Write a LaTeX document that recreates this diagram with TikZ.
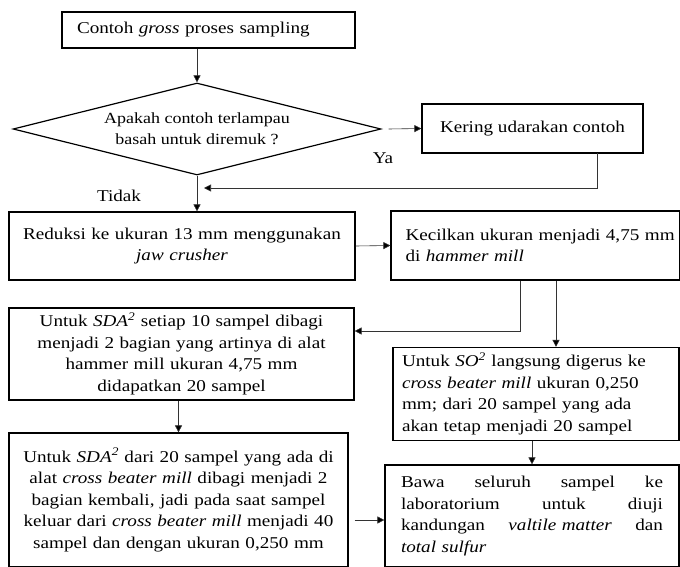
\documentclass[tikz,border=0pt]{standalone}
\usepackage{fontspec}
\setmainfont[FakeStretch=1.16]{Liberation Serif}
\usetikzlibrary{shapes.geometric,arrows.meta}
\begin{document}
\begin{tikzpicture}[x=1pt,y=1pt,
  box/.style={draw,line width=1.2pt,inner sep=0pt,font=\fontsize{16.5}{21.5}\selectfont},
  conn/.style={line width=0.6pt,draw=black!80,-{Triangle[length=7pt,width=7pt,fill=black]}},
  lbl/.style={font=\fontsize{16.5}{18}\selectfont,inner sep=0pt}]
\path[use as bounding box] (0,0) rectangle (680,-567);
\node[box,minimum width=293pt,minimum height=36pt,text width=263pt,align=left] (b1) at (208.5,-30) {Contoh \textit{gross} proses sampling};
\node[draw,line width=1.2pt,diamond,aspect=4,minimum width=368pt,minimum height=92pt,inner sep=0pt,align=center,font=\fontsize{15.5}{21}\selectfont] (dia) at (197,-129) {Apakah contoh terlampau\\basah untuk diremuk ?};
\node[box,minimum width=221pt,minimum height=49pt] (ker) at (532.5,-128.5) {Kering udarakan contoh};
\node[box,minimum width=346pt,minimum height=68pt,text width=340pt,align=center] (red) at (182,-246) {Reduksi ke ukuran 13 mm menggunakan\\\textit{jaw crusher}};
\node[box,minimum width=289pt,minimum height=69pt,text width=260pt,align=left] (kec) at (535.5,-245.5) {\mbox{Kecilkan ukuran menjadi 4,75 mm}\\di \textit{hammer mill}};
\node[box,minimum width=345pt,minimum height=92pt,text width=340pt,align=center] (sda1) at (181.5,-354) {Untuk \textit{SDA}\textsuperscript{\textit{2}} setiap 10 sampel dibagi\\menjadi 2 bagian yang artinya di alat\\hammer mill ukuran 4,75 mm\\didapatkan 20 sampel};
\node[box,minimum width=286pt,minimum height=93pt,text width=268pt,align=left] (so) at (536,-394) {\mbox{Untuk \textit{SO}\textsuperscript{\textit{2}} langsung digerus ke}\\\mbox{\textit{cross beater mill} ukuran 0,250}\\mm; dari 20 sampel yang ada\\\mbox{akan tetap menjadi 20 sampel}};
\node[box,minimum width=294pt,minimum height=102pt,text width=262pt,align=left] (bawa) at (532,-516) {Bawa\hfill seluruh\hfill sampel\hfill ke\\laboratorium\hfill untuk\hfill diuji\\kandungan\hfill \textit{valtile matter}\hfill dan\\\textit{total sulfur}};
\node[box,minimum width=339pt,minimum height=134pt,text width=337pt,align=center] (sda2) at (178.5,-500) {Untuk \textit{SDA}\textsuperscript{\textit{2}} dari 20 sampel yang ada di\\alat \textit{cross beater mill} dibagi menjadi 2\\bagian kembali, jadi pada saat sampel\\keluar dari \textit{cross beater mill} menjadi 40\\sampel dan dengan ukuran 0,250 mm};
\node[lbl] (ya) at (383,-158) {Ya};
\node[lbl] (tidak) at (119,-196) {Tidak};
\coordinate (kerout) at (597,-153);
\coordinate (merge) at (204,-188);
\draw[conn] (b1.south -| dia.north) -- (dia.north);
\draw[conn] ([xshift=7pt]dia.east) -- (ker.west);
\draw[conn] (kerout) |- (merge);
\draw[conn] (dia.south) -- (dia.south |- red.north);
\draw[conn] (red.east) -- (kec.west);
\draw[conn] (kec.south -| 520,0) |- (sda1.east |- 0,-331);
\draw[conn] (kec.south -| 556,0) -- (so.north -| 556,0);
\draw[conn] (sda1.south -| sda2.north) -- (sda2.north);
\draw[conn] (so.south -| 532,0) -- (bawa.north -| 532,0);
\draw[conn] ([xshift=6pt]sda2.east |- 0,-520) -- (bawa.west |- 0,-520);
\end{tikzpicture}
\end{document}
